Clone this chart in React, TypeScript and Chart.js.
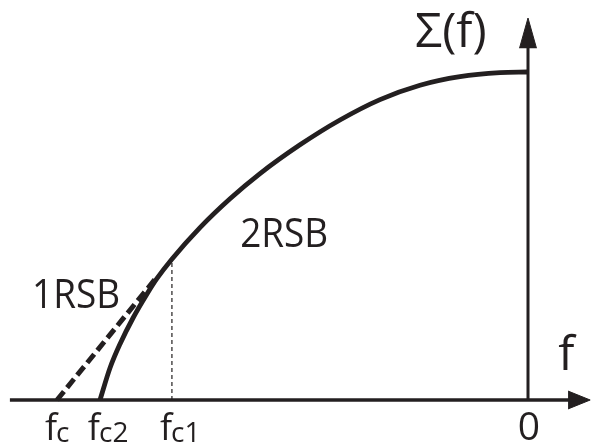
import React, { useEffect, useRef } from 'react';
import { Chart, registerables } from 'chart.js';

Chart.register(...registerables);

// ---- data (f axis units, Σ axis units) ----
const curveF = [-90.87, -88.75, -86.62, -83.86, -80.89, -78.77, -75.58, -69.64, -63.27, -56.9, -48.41, -39.92, -31.42, -22.93, -14.44, -5.94, 0];
const curveSigma = [0, 6.79, 11.89, 17.41, 22.51, 25.8, 29.94, 36.6, 42.72, 48.07, 54.18, 59.45, 63.78, 66.84, 68.66, 69.51, 69.64];
const oneRsbF = [-100, -78.8];
const oneRsbSigma = [0, 26.1];
const fc1F = [-75.6, -75.6];
const fc1Sigma = [0, 29.9];
const xAxisF = [-110, 10];
const xAxisSigma = [0, 0];
const yAxisF = [0, 0];
const yAxisSigma = [0, 76];
const xArrowF = [8.5, 13.2, 8.5];
const xArrowSigma = [-1.9, 0, 1.9];
const yArrowF = [-1.8, 0, 1.8];
const yArrowSigma = [74.7, 81.1, 74.7];
const tickValues = [-100, -90.9, -75.6, 0];
const tickMain = ['f', 'f', 'f', '0'];
const tickSub = ['c', 'c2', 'c1', ''];

const INK = '#231f20';
const FONT = "'Open Sans', 'Noto Sans', sans-serif";

const pts = (xs: number[], ys: number[]) => xs.map((x, i) => ({ x, y: ys[i] }));

const textPlugin = {
  id: 'textLabels',
  afterDraw(chart: any) {
    const { ctx, scales } = chart;
    const sx = scales.x;
    const sy = scales.y;
    const X = (v: number) => sx.getPixelForValue(v);
    const Y = (v: number) => sy.getPixelForValue(v);
    ctx.save();
    ctx.fillStyle = INK;
    ctx.textBaseline = 'alphabetic';

    const draw = (txt: string, x: number, y: number, size: number, scaleX = 1, align: CanvasTextAlign = 'left') => {
      ctx.save();
      ctx.font = `${size}px ${FONT}`;
      ctx.textAlign = align;
      ctx.translate(x, y);
      ctx.scale(scaleX, 1);
      ctx.fillText(txt, 0, 0);
      ctx.restore();
    };

    // axis titles
    draw('Σ(f)', X(-24.0), Y(74.9), 48);
    draw('f', X(6.4), Y(6.4), 48);
    // region labels
    draw('1RSB', X(-105.3), Y(19.5), 41, 0.9);
    draw('2RSB', X(-61.1), Y(32.5), 41, 0.9);

    // tick labels
    tickValues.forEach((v, i) => {
      const base = Y(-8.5);
      if (tickSub[i] === '') {
        draw(tickMain[i], X(v) + 1, base, 39, 1, 'center');
      } else {
        const x0 = X(v) - 12;
        ctx.font = `36px ${FONT}`;
        const w = ctx.measureText(tickMain[i]).width;
        draw(tickMain[i], x0, base, 36);
        draw(tickSub[i], x0 + w - 1, base + 2, 28);
      }
    });
    ctx.restore();
  },
};

export default function App() {
  const ref = useRef<HTMLCanvasElement | null>(null);
  useEffect(() => {
    if (!ref.current) return;
    const line = (data: any, extra: any = {}) => ({
      data,
      showLine: true,
      borderColor: INK,
      backgroundColor: INK,
      pointRadius: 0,
      borderWidth: 3,
      fill: false,
      ...extra,
    });
    const chart = new Chart(ref.current, {
      type: 'scatter',
      data: {
        datasets: [
          line(pts(xAxisF, xAxisSigma), { borderWidth: 3.5 }),
          line(pts(yAxisF, yAxisSigma), { borderWidth: 3 }),
          line(pts(xArrowF, xArrowSigma), { borderWidth: 1, fill: 'shape' }),
          line(pts(yArrowF, yArrowSigma), { borderWidth: 1, fill: 'shape' }),
          line(pts(fc1F, fc1Sigma), { borderWidth: 1.2, borderDash: [4, 3] }),
          line(pts(oneRsbF, oneRsbSigma), { borderWidth: 5, borderDash: [11, 5] }),
          line(pts(curveF, curveSigma), { borderWidth: 4.8, cubicInterpolationMode: 'monotone' }),
        ],
      },
      options: {
        responsive: false,
        animation: false,
        layout: { padding: 0 },
        plugins: { legend: { display: false }, tooltip: { enabled: false } },
        scales: {
          x: { type: 'linear', min: -528 / 4.71, max: 63 / 4.71, display: false },
          y: { type: 'linear', min: -45 / 4.71, max: 400 / 4.71, display: false },
        },
      },
      plugins: [textPlugin],
    });
    return () => chart.destroy();
  }, []);
  return (
    <canvas
      ref={ref}
      width={591}
      height={445}
      style={{ position: 'fixed', left: 0, top: 0, display: 'block', background: '#fff' }}
    />
  );
}
